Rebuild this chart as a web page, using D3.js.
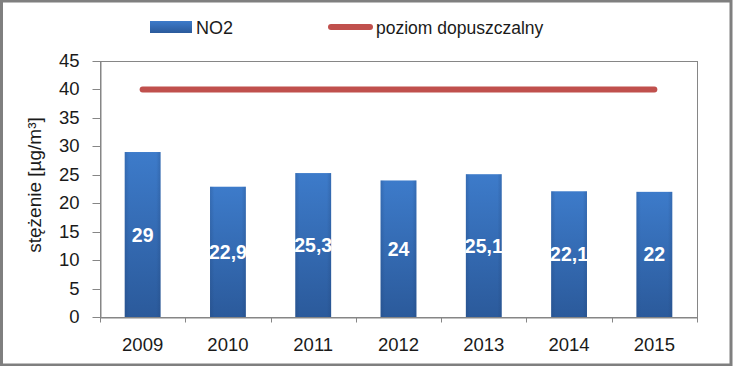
<!DOCTYPE html>
<html>
<head>
<meta charset="utf-8">
<script src="https://cdn.jsdelivr.net/npm/d3@7"></script>
<style>
  html, body { margin: 0; padding: 0; background: #fff; }
  svg { display: block; }
  text { font-family: "Liberation Sans", Arial, sans-serif; }
</style>
</head>
<body>
<svg id="chart" width="733" height="366"></svg>
<script>
const years = ["2009", "2010", "2011", "2012", "2013", "2014", "2015"];
const no2 = [29, 22.9, 25.3, 24, 25.1, 22.1, 22];
const limitValues = [40, 40, 40, 40, 40, 40, 40];
const yTicks = [0, 5, 10, 15, 20, 25, 30, 35, 40, 45];
const seriesNames = ["NO2", "poziom dopuszczalny"];
const yTitle = "stężenie [µg/m³]";

const svg = d3.select("#chart");
const W = 733, H = 366;
const m = { left: 100, right: 697, top: 61, bottom: 317 };

const defs = svg.append("defs");
const grad = defs.append("linearGradient").attr("id", "barGrad")
  .attr("x1", 0).attr("y1", 0).attr("x2", 0).attr("y2", 1);
grad.append("stop").attr("offset", "0%").attr("stop-color", "#3d7bca");
grad.append("stop").attr("offset", "100%").attr("stop-color", "#2b5a9b");
const gradH = defs.append("linearGradient").attr("id", "barEdge")
  .attr("x1", 0).attr("y1", 0).attr("x2", 1).attr("y2", 0);
gradH.append("stop").attr("offset", "0%").attr("stop-color", "#1f3f70").attr("stop-opacity", 0.25);
gradH.append("stop").attr("offset", "12%").attr("stop-color", "#1f3f70").attr("stop-opacity", 0);
gradH.append("stop").attr("offset", "88%").attr("stop-color", "#1f3f70").attr("stop-opacity", 0);
gradH.append("stop").attr("offset", "100%").attr("stop-color", "#1f3f70").attr("stop-opacity", 0.25);

// background + outer frame
svg.append("rect").attr("x", 0).attr("y", 0).attr("width", W).attr("height", H).attr("fill", "#fff");
svg.append("rect").attr("x", 1.5).attr("y", 1).attr("width", 729.5).attr("height", 364)
  .attr("fill", "none").attr("stroke", "#7f7f7f").attr("stroke-width", 3);

const x = d3.scaleBand().domain(years).range([m.left, m.right]).paddingInner(0.58).paddingOuter(0.29);
const y = d3.scaleLinear().domain([0, 45]).range([m.bottom, m.top]);

// plot area border
svg.append("rect").attr("x", m.left + 0.5).attr("y", y(45) + 0.5)
  .attr("width", m.right - m.left).attr("height", y(0) - y(45))
  .attr("fill", "none").attr("stroke", "#868686").attr("stroke-width", 1);

// bars
const bars = svg.append("g");
bars.selectAll("rect.bar").data(no2).join("rect").attr("class", "bar")
  .attr("x", (d, i) => x(years[i])).attr("y", d => y(d))
  .attr("width", x.bandwidth()).attr("height", d => y(0) - y(d))
  .attr("fill", "url(#barGrad)");
bars.selectAll("rect.edge").data(no2).join("rect").attr("class", "edge")
  .attr("x", (d, i) => x(years[i])).attr("y", d => y(d))
  .attr("width", x.bandwidth()).attr("height", d => y(0) - y(d))
  .attr("fill", "url(#barEdge)");

// data labels
bars.selectAll("text").data(no2).join("text")
  .attr("x", (d, i) => x(years[i]) + x.bandwidth() / 2)
  .attr("y", d => (y(d) + y(0)) / 2)
  .attr("dy", "0.36em")
  .attr("text-anchor", "middle")
  .attr("fill", "#fff").attr("font-weight", "bold").attr("font-size", "19.5px")
  .text(d => String(d).replace(".", ","));

// limit line
const line = d3.line().x((d, i) => x(years[i]) + x.bandwidth() / 2).y(d => y(d));
svg.append("path").datum(limitValues).attr("d", line)
  .attr("fill", "none").attr("stroke", "#c0504d").attr("stroke-width", 6)
  .attr("stroke-linecap", "round");

// y axis
const yAxis = svg.append("g").attr("transform", `translate(${m.left + 0.5},0)`)
  .call(d3.axisLeft(y).tickValues(yTicks).tickSize(8).tickPadding(13).tickSizeOuter(0));
yAxis.select(".domain").attr("stroke", "#868686");
yAxis.selectAll(".tick line").attr("stroke", "#868686");
yAxis.selectAll(".tick text").attr("font-size", "18.5px").attr("fill", "#1a1a1a")
  .attr("font-family", "Liberation Sans, Arial, sans-serif");
yAxis.selectAll(".tick").attr("transform", d => `translate(0,${Math.round(y(d)) + 0.5})`);

// x axis
const xAxis = svg.append("g").attr("transform", `translate(0,${m.bottom + 0.5})`)
  .call(d3.axisBottom(x).tickSize(0).tickPadding(20).tickSizeOuter(0));
xAxis.select(".domain").attr("stroke", "#868686");
xAxis.selectAll(".tick text").attr("font-size", "18.5px").attr("fill", "#1a1a1a")
  .attr("font-family", "Liberation Sans, Arial, sans-serif");
// boundary ticks
const bounds = years.map(d => x(d) - x.step() * x.paddingInner() / 2).concat([m.right]);
xAxis.selectAll("line.bt").data(bounds).join("line").attr("class", "bt")
  .attr("x1", d => Math.round(d) + 0.5).attr("x2", d => Math.round(d) + 0.5)
  .attr("y1", 0).attr("y2", 5).attr("stroke", "#868686");

// y title
svg.append("text").attr("transform", `translate(41,${(m.top + m.bottom) / 2 - 4}) rotate(-90)`)
  .attr("text-anchor", "middle").attr("font-size", "19px").attr("fill", "#1a1a1a")
  .text(yTitle);

// legend
const lg = svg.append("g");
lg.append("rect").attr("x", 150).attr("y", 21).attr("width", 42).attr("height", 12)
  .attr("fill", "url(#barGrad)");
lg.append("text").attr("x", 196).attr("y", 33.5).attr("font-size", "18px").attr("fill", "#1a1a1a")
  .text(seriesNames[0]);
lg.append("line").attr("x1", 331).attr("x2", 370).attr("y1", 27).attr("y2", 27)
  .attr("stroke", "#c0504d").attr("stroke-width", 6).attr("stroke-linecap", "round");
lg.append("text").attr("x", 376).attr("y", 33.5).attr("font-size", "17.5px").attr("fill", "#1a1a1a")
  .text(seriesNames[1]);
</script>
</body>
</html>
